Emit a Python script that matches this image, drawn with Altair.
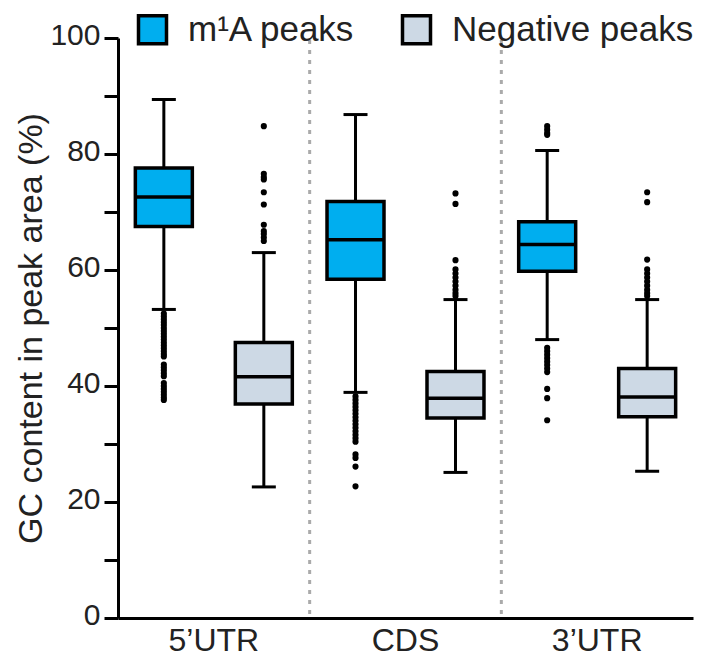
import altair as alt
import pandas as pd

regions = ["5’UTR", "CDS", "3’UTR"]
groups = ["m¹A peaks", "Negative peaks"]
colors = ["#00AEEF", "#CDD9E5"]

# box statistics per region (5'UTR, CDS, 3'UTR)
m1a_lower = [53.2, 38.9, 48.0]
m1a_q1 = [67.5, 58.4, 59.8]
m1a_median = [72.6, 65.2, 64.4]
m1a_q3 = [77.6, 71.8, 68.3]
m1a_upper = [89.4, 86.8, 80.6]

neg_lower = [22.6, 25.1, 25.3]
neg_q1 = [36.9, 34.5, 34.7]
neg_median = [41.6, 37.9, 38.1]
neg_q3 = [47.5, 42.5, 43.0]
neg_upper = [63.0, 54.9, 54.9]

# outliers
out_5utr_m1a = [52.5, 52.0, 51.5, 51.0, 50.5, 50.0, 49.5, 49.0, 48.5, 48.0, 47.5, 47.0,
                46.5, 46.0, 45.5, 45.1, 43.7, 43.2, 42.7, 42.2, 41.7, 40.5, 40.0, 39.5,
                39.0, 38.5, 38.0, 37.6]
out_5utr_neg = [84.8, 76.6, 76.0, 75.6, 73.4, 71.3, 67.8, 66.7, 66.2, 65.6, 65.0]
out_cds_m1a = [38.2, 37.6, 37.0, 36.4, 35.8, 35.2, 34.6, 34.0, 33.4, 32.8, 32.2, 31.6,
               31.0, 30.4, 28.2, 27.6, 26.1, 22.7]
out_cds_neg = [73.2, 71.4, 61.7, 60.1, 59.4, 58.7, 58.0, 57.3, 56.6, 56.0, 55.5]
out_3utr_m1a = [84.8, 84.2, 83.6, 83.3, 46.6, 46.0, 45.4, 44.8, 44.2, 43.6, 43.0, 42.4,
                39.5, 37.9, 34.1]
out_3utr_neg = [73.4, 71.7, 61.8, 60.1, 59.4, 58.7, 58.0, 57.3, 56.6, 56.0, 55.5]

rows = []
for i, r in enumerate(regions):
    rows.append(dict(region=r, group=groups[0], lower=m1a_lower[i], q1=m1a_q1[i],
                     median=m1a_median[i], q3=m1a_q3[i], upper=m1a_upper[i]))
    rows.append(dict(region=r, group=groups[1], lower=neg_lower[i], q1=neg_q1[i],
                     median=neg_median[i], q3=neg_q3[i], upper=neg_upper[i]))
stats = pd.DataFrame(rows)

out_rows = []
for r, g, vals in [
    (regions[0], groups[0], out_5utr_m1a), (regions[0], groups[1], out_5utr_neg),
    (regions[1], groups[0], out_cds_m1a), (regions[1], groups[1], out_cds_neg),
    (regions[2], groups[0], out_3utr_m1a), (regions[2], groups[1], out_3utr_neg),
]:
    for v in vals:
        out_rows.append(dict(region=r, group=g, value=v))
outliers = pd.DataFrame(out_rows)

seps = pd.DataFrame({"region": regions[1:]})

FONT = "Liberation Sans"
TXT = "#222222"

xscale = alt.Scale(domain=regions, paddingInner=0, paddingOuter=0)
xaxis = alt.Axis(title=None, ticks=False, labelFontSize=32, labelFont=FONT, labelColor=TXT,
                 labelPadding=7, domainColor="black", domainWidth=3, labelAngle=0)
X = alt.X("region:N", scale=xscale, axis=xaxis)
XO = alt.XOffset("group:N", scale=alt.Scale(domain=groups, paddingInner=0.43, paddingOuter=0.1735))

yscale = alt.Scale(domain=[0, 100], nice=False)
yaxis = alt.Axis(title="GC content in peak area (%)", values=list(range(0, 101, 10)),
                 labelExpr="datum.value % 20 == 0 ? datum.label : ''",
                 grid=False, tickSize=14, tickWidth=3, tickColor="black",
                 domainColor="black", domainWidth=3, labelFontSize=30, labelFont=FONT,
                 labelColor=TXT, labelPadding=4, labelOffset=-3,
                 titleFontSize=34, titleFont=FONT, titleColor=TXT, titleFontWeight="normal",
                 titlePadding=1)


def Y(field):
    return alt.Y(field, scale=yscale, axis=yaxis)


base = alt.Chart(stats).encode(x=X, xOffset=XO)

sep = alt.Chart(seps).mark_rule(color="#aaaaaa", strokeWidth=3, strokeDash=[4, 6]).encode(
    x=alt.X("region:N", scale=xscale, axis=xaxis, bandPosition=0),
    y=alt.value(2), y2=alt.value(580))

whisker = base.mark_rule(color="black", strokeWidth=3).encode(y=Y("lower:Q"), y2="upper:Q")

box = base.mark_bar(stroke="black", strokeWidth=3.5).encode(
    y=Y("q1:Q"), y2="q3:Q",
    color=alt.Color("group:N", scale=alt.Scale(domain=groups, range=colors),
                    legend=alt.Legend(title=None, orient="none", direction="horizontal",
                                      legendX=17, legendY=-26, symbolType="square",
                                      symbolSize=784, symbolStrokeColor="black",
                                      symbolStrokeWidth=3.5, symbolOpacity=1,
                                      labelFontSize=35, labelFont=FONT, labelColor=TXT,
                                      labelOffset=18, columnPadding=39, padding=0,
                                      labelLimit=0)))

median = base.mark_tick(color="black", thickness=3.5, size=57, opacity=1).encode(y=Y("median:Q"))
cap_lo = base.mark_tick(color="black", thickness=3, size=24, opacity=1).encode(y=Y("lower:Q"))
cap_hi = base.mark_tick(color="black", thickness=3, size=24, opacity=1).encode(y=Y("upper:Q"))

pts = alt.Chart(outliers).mark_circle(color="black", size=38, opacity=1).encode(
    x=X, xOffset=XO, y=Y("value:Q"))

chart = alt.layer(sep, whisker, box, median, cap_lo, cap_hi, pts).properties(
    width=575, height=580,
    autosize=alt.AutoSizeParams(type="none"),
    padding={"left": 118, "top": 38, "right": 9, "bottom": 42},
    background="white",
).configure_view(stroke=None)

chart.save("out.html", embed_options={"renderer": "svg", "actions": False})
